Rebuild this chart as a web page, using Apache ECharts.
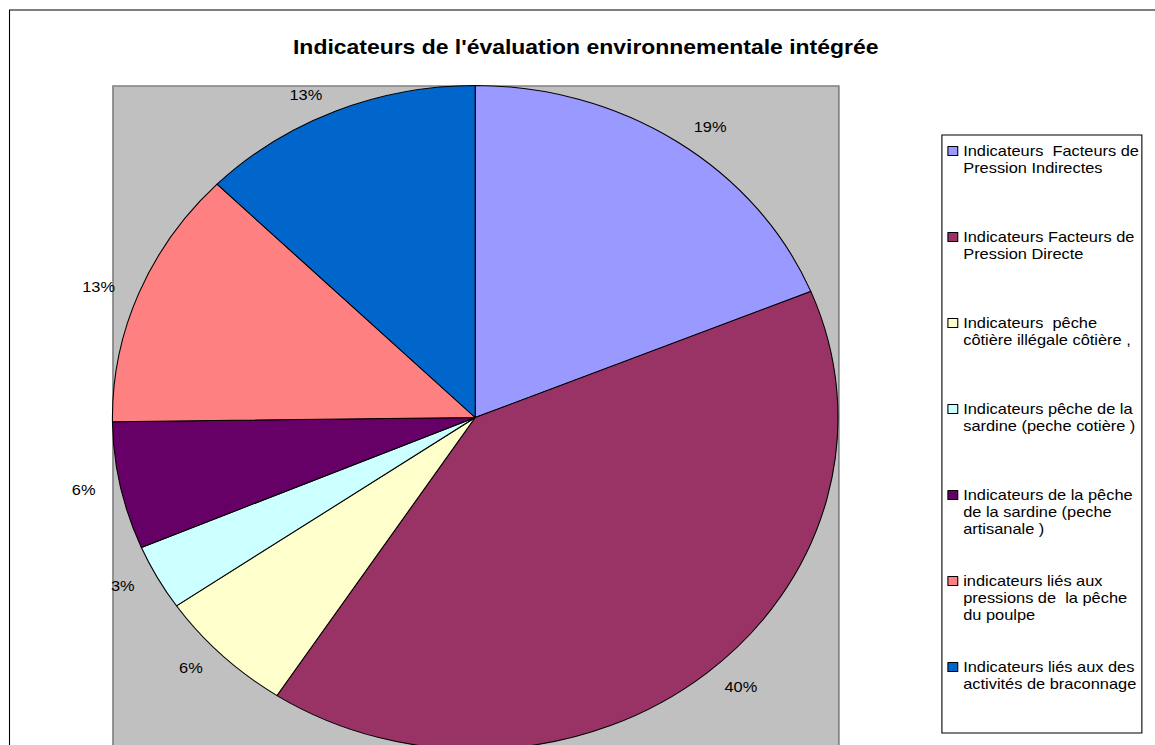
<!DOCTYPE html>
<html>
<head>
<meta charset="utf-8">
<title>Indicateurs de l'évaluation environnementale intégrée</title>
<script src="https://cdn.jsdelivr.net/npm/echarts@6/dist/echarts.min.js"></script>
<style>
    html, body {
        margin: 0;
        padding: 0;
        background: #fff;
        overflow: hidden;
    }
    /* l'image de référence est étirée en largeur : on dessine plus étroit puis on élargit */
    #chart {
        width: 1057px;
        height: 745px;
        transform: scaleX(1.0927);
        transform-origin: 0 0;
    }
</style>
</head>
<body>
<div id="chart"></div>
<script>
    const categories = [
        'Indicateurs  Facteurs de\nPression Indirectes',
        'Indicateurs Facteurs de\nPression Directe',
        'Indicateurs  pêche\ncôtière illégale côtière ,',
        'Indicateurs pêche de la\nsardine (peche cotière )',
        'Indicateurs de la pêche\nde la sardine (peche\nartisanale )',
        'indicateurs liés aux\npressions de  la pêche\ndu poulpe',
        'Indicateurs liés aux des\nactivités de braconnage'
    ];
    // parts (en %)
    const values = [18.8, 40.4, 6.2, 3.2, 6.2, 12.6, 12.6];
    const colors = ['#9999FF', '#993366', '#FFFFCC', '#CCFFFF', '#660066', '#FF8080', '#0066CC'];

    const font = 'Arial, "Liberation Sans", sans-serif';
    let myChart = echarts.init(document.getElementById('chart'), null, { renderer: 'svg' });

    let pieData = [];
    for (let i = 0; i < categories.length; i++) {
        pieData.push({ name: categories[i], value: values[i] });
    }

    let option = {
        animation: false,
        color: colors,
        title: {
            text: "Indicateurs de l'évaluation environnementale intégrée",
            left: 536,
            top: 47,
            padding: 0,
            textAlign: 'center',
            textVerticalAlign: 'middle',
            textStyle: {
                fontFamily: font,
                fontSize: 21,
                fontWeight: 'bold',
                color: '#000'
            }
        },
        legend: {
            orient: 'vertical',
            left: 867,
            top: 142.5,
            padding: 0,
            itemGap: 35,
            itemWidth: 9,
            itemHeight: 43,
            // carré en haut de la case pour rester sur la 1re ligne du texte
            icon: 'path://M0,0H9V9H0Z M9,43',
            selectedMode: false,
            itemStyle: { borderColor: '#000', borderWidth: 1 },
            // toutes les entrées sur 3 lignes pour garder un pas régulier
            formatter: function (name) {
                return name.split('\n').length < 3 ? name + '\n ' : name;
            },
            textStyle: {
                fontFamily: font,
                fontSize: 15,
                lineHeight: 17,
                color: '#000'
            },
            data: categories
        },
        graphic: [
            {
                type: 'rect',
                z: -10,
                shape: { x: 8.7, y: 10, width: 1100, height: 800 },
                style: { fill: '#fff', stroke: '#000', lineWidth: 1 }
            },
            {
                type: 'rect',
                z: -5,
                shape: { x: 103.4, y: 86, width: 664.3, height: 700 },
                style: { fill: '#C0C0C0', stroke: '#808080', lineWidth: 1.5 }
            },
            {
                type: 'rect',
                z: -5,
                shape: { x: 862, y: 135, width: 183, height: 598 },
                style: { fill: '#fff', stroke: '#000', lineWidth: 1 }
            }
        ],
        series: [
            {
                type: 'pie',
                center: [434.9, 417.5],
                radius: 332,
                startAngle: 90,
                clockwise: true,
                percentPrecision: 0,
                avoidLabelOverlap: false,
                emphasis: { disabled: true },
                itemStyle: { borderColor: '#000', borderWidth: 1 },
                label: {
                    show: true,
                    position: 'outside',
                    formatter: '{d}%',
                    fontFamily: font,
                    fontSize: 15,
                    color: '#000'
                },
                labelLine: { show: false, length: 18, length2: 0 },
                data: pieData
            }
        ]
    };
    myChart.setOption(option);
</script>
</body>
</html>
